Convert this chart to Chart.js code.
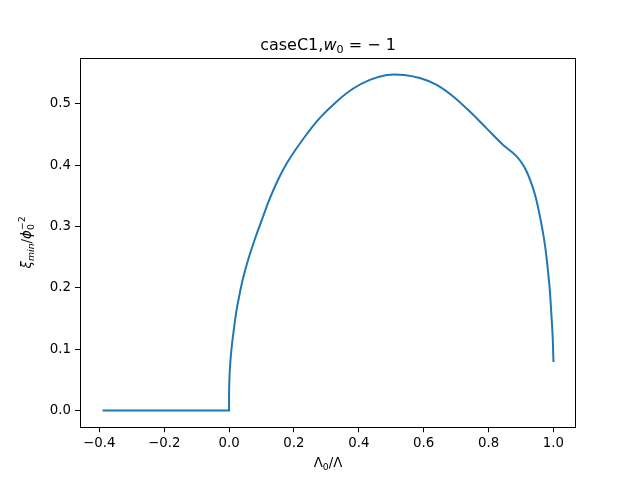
<!doctype html>
<html lang="en">
<head>
<meta charset="UTF-8" />
<title>caseC1</title>
<style>
  body { margin: 0; background: #fff; }
  .chartBox { width: 640px; height: 480px; }
</style>
</head>
<body>
<div class="chartBox"><canvas id="myChart" width="640" height="480"></canvas></div>

<script src="https://cdn.jsdelivr.net/npm/chart.js"></script>
<script>
// data
const lambdaRatio = [-0.39, -0.2, 0.0, 0.0, 0.001, 0.003, 0.008, 0.015, 0.023, 0.031, 0.042, 0.059,
  0.08, 0.1, 0.122, 0.15, 0.178, 0.229, 0.28, 0.332, 0.383, 0.434, 0.486, 0.51, 0.54, 0.588, 0.64,
  0.691, 0.743, 0.794, 0.845, 0.868, 0.887, 0.902, 0.917, 0.93, 0.943, 0.955, 0.966, 0.975, 0.983,
  0.989, 0.994, 0.998, 1.0];
const xiMin = [0, 0, 0, 0.03, 0.05, 0.072, 0.103, 0.133, 0.163, 0.186, 0.213, 0.246,
  0.28, 0.309, 0.341, 0.375, 0.403, 0.443, 0.477, 0.504, 0.525, 0.539, 0.547, 0.548, 0.547, 0.542, 0.531,
  0.512, 0.487, 0.46, 0.433, 0.423, 0.414, 0.404, 0.39, 0.373, 0.352, 0.325, 0.295, 0.265, 0.228,
  0.195, 0.153, 0.115, 0.079];
const xTicks = [-0.4, -0.2, 0.0, 0.2, 0.4, 0.6, 0.8, 1.0];
const yTicks = [0.0, 0.1, 0.2, 0.3, 0.4, 0.5];
const kink = 3; // index where the straight part hands over to the curve

const FONT = "'DejaVu Sans', sans-serif";
const fmt = v => v.toFixed(1).replace('-', '\u2212');

// draws a line of mixed-font text centred on (cx, baseline)
function richText(ctx, parts, cx, cy, angle) {
  ctx.save();
  ctx.translate(cx, cy);
  ctx.rotate(angle || 0);
  ctx.fillStyle = '#000';
  ctx.textBaseline = 'alphabetic';
  ctx.textAlign = 'left';
  let x = 0, prevStart = 0;
  const laid = parts.map(p => {
    ctx.font = p.font;
    const w = ctx.measureText(p.t).width;
    const start = p.stack ? prevStart : x;
    if (!p.stack) prevStart = x;
    x = Math.max(x, start + w);
    return { p, start };
  });
  const total = x;
  laid.forEach(({ p, start }) => {
    ctx.font = p.font;
    ctx.fillText(p.t, start - total / 2, p.dy || 0);
  });
  ctx.restore();
}

const labels = {
  id: 'labels',
  afterDraw(chart) {
    const { ctx, chartArea: { left, top, right, bottom } } = chart;
    // frame
    ctx.save();
    ctx.strokeStyle = '#000';
    ctx.lineWidth = 1;
    ctx.strokeRect(Math.round(left) + 0.5, Math.round(top) + 0.5,
      Math.round(right) - Math.round(left) - 1, Math.round(bottom) - Math.round(top));
    ctx.restore();
    const mid = (left + right) / 2;
    // title
    richText(ctx, [
      { t: 'caseC1,', font: `16px ${FONT}` },
      { t: 'w', font: `italic 16px ${FONT}` },
      { t: '0', font: `11.2px ${FONT}`, dy: 3.5 },
      { t: ' = \u2212 1', font: `16px ${FONT}` },
    ], mid, 49.5);
    // x label
    richText(ctx, [
      { t: '\u039b', font: `13.33px ${FONT}` },
      { t: '0', font: `9.33px ${FONT}`, dy: 2.8 },
      { t: '/\u039b', font: `13.33px ${FONT}` },
    ], mid, 467);
    // y label
    richText(ctx, [
      { t: '\u03be', font: `italic 13.33px ${FONT}` },
      { t: 'min', font: `italic 9.33px ${FONT}`, dy: 2.8 },
      { t: '/', font: `13.33px ${FONT}` },
      { t: '\u03d5', font: `italic 13.33px ${FONT}` },
      { t: '0', font: `9.33px ${FONT}`, dy: 2.8 },
      { t: '\u22122', font: `9.33px ${FONT}`, dy: -6, stack: true },
    ], 31, (top + bottom) / 2, -Math.PI / 2);
  },
};

const points = lambdaRatio.map((x, i) => ({ x, y: xiMin[i] }));
const lineStyle = { borderColor: '#1f77b4', borderWidth: 2, pointRadius: 0, fill: false };
const tickOnly = list => c => (c.tick && list.includes(c.tick.value) ? '#000' : 'rgba(0,0,0,0)');

const config = {
  type: 'line',
  data: {
    datasets: [
      { ...lineStyle, data: points.slice(0, kink + 1), tension: 0 },
      { ...lineStyle, data: points.slice(kink), cubicInterpolationMode: 'monotone' },
    ],
  },
  options: {
    responsive: false,
    animation: false,
    layout: { padding: { left: 0, right: 64, top: 57.6, bottom: 0 } },
    plugins: { legend: { display: false }, tooltip: { enabled: false }, title: { display: false } },
    scales: {
      x: {
        type: 'linear',
        min: -0.4595,
        max: 1.0695,
        afterBuildTicks: s => { s.ticks = xTicks.map(v => ({ value: v })); },
        afterFit: s => { s.height = 52.8; },
        grid: { drawOnChartArea: false, drawTicks: true, tickLength: 5, tickColor: tickOnly(xTicks), tickWidth: 1 },
        border: { display: false },
        ticks: { color: '#000', font: { family: FONT, size: 13.33 }, padding: 3, maxRotation: 0, callback: v => fmt(v) },
      },
      y: {
        type: 'linear',
        min: -0.0274,
        max: 0.5754,
        afterBuildTicks: s => { s.ticks = yTicks.map(v => ({ value: v })); },
        afterFit: s => { s.width = 80; },
        grid: { drawOnChartArea: false, drawTicks: true, tickLength: 5, tickColor: tickOnly(yTicks), tickWidth: 1 },
        border: { display: false },
        ticks: { color: '#000', font: { family: FONT, size: 13.33 }, padding: 4, callback: v => fmt(v) },
      },
    },
  },
  plugins: [labels],
};

new Chart(document.getElementById('myChart').getContext('2d'), config);
</script>
</body>
</html>
